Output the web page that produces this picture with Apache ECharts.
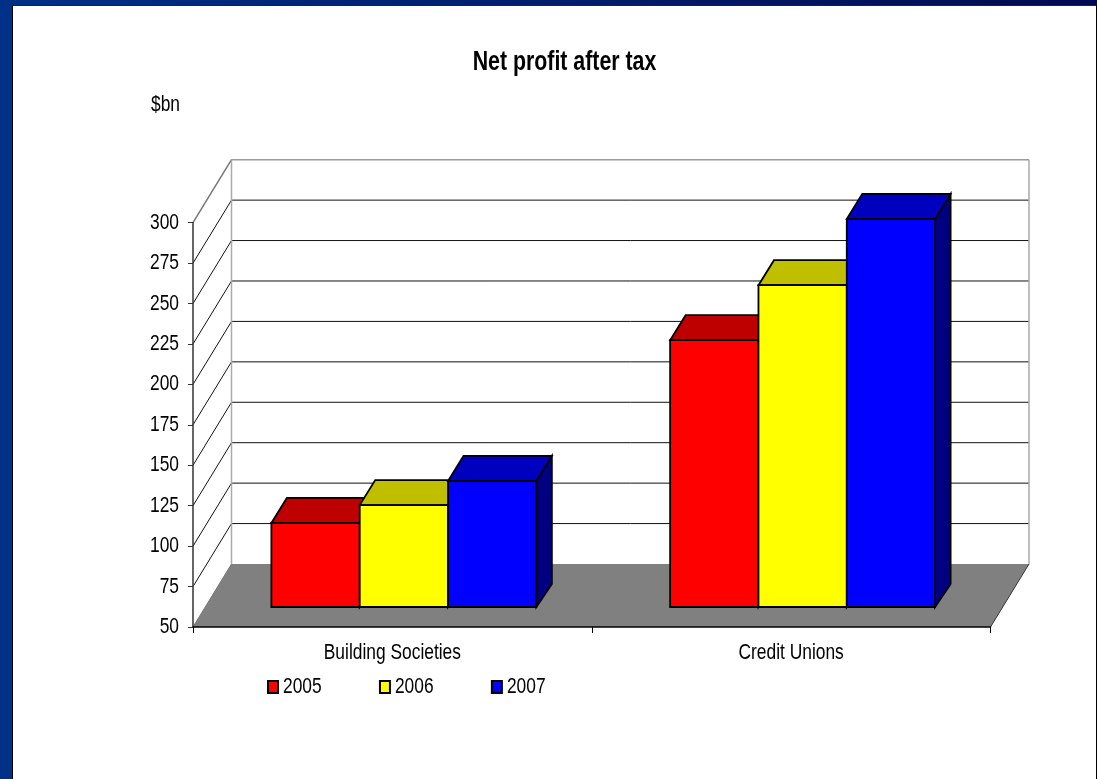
<!DOCTYPE html>
<html>
<head>
<meta charset="utf-8">
<style>
html,body{margin:0;padding:0;width:1097px;height:779px;overflow:hidden;background:#003087;}
#top{position:absolute;left:0;top:0;width:1097px;height:6px;background:linear-gradient(to right,#003087,#000a50);}
#panel{position:absolute;left:12px;top:5px;width:1083px;height:774px;background:#fff;border-left:1px solid #000;border-top:1px solid #222;border-right:1px solid #000;box-sizing:content-box;}
#chart{position:absolute;left:0;top:0;width:1097px;height:779px;}
</style>
<script src="https://cdn.jsdelivr.net/npm/echarts@6/dist/echarts.min.js"></script>
</head>
<body>
<div id="top"></div>
<div id="panel"></div>
<div id="chart"></div>
<script>
var categories = ['Building Societies', 'Credit Unions'];
var tickValues = [50, 75, 100, 125, 150, 175, 200, 225, 250, 275, 300];
var years = ['2005', '2006', '2007'];
var values2005 = [102, 215];
var values2006 = [113, 249];
var values2007 = [128, 290];

var FONT = '"Liberation Sans",Arial,sans-serif';
var TEXT_SQUEEZE = 0.79;             // the reference's lettering is horizontally condensed
var WALL_DX = 38.5, WALL_DY = -63;   // depth of the whole box
var BAR_DX = 11.5, BAR_DY = -20;     // where the bars' front faces sit in the box
var TOP_DX = 15.5, TOP_DY = -25;     // depth of each bar
var GROUP_SHARE = 0.2215;            // bar width as share of a category band

function poly(points, fill, stroke, lw) {
  return {type:'polygon', shape:{points:points},
    style:{fill:fill, stroke:stroke||null, lineWidth:lw||0, lineJoin:'miter'}};
}
function seg(a, b, color, lw) {
  return {type:'line', shape:{x1:a[0],y1:a[1],x2:b[0],y2:b[1]},
    style:{stroke:color, lineWidth:lw, fill:null}};
}

function renderBox(params, api) {
  var v = api.value(0);
  var left = api.coord([0, v]);
  var band = api.size([1, 0])[0];
  var x0 = left[0] - band / 2, x1 = x0 + band * categories.length, y = left[1];
  var items = [];
  var isTop = v === tickValues[tickValues.length - 1];
  var isBottom = v === tickValues[0];
  var backL = [x0 + WALL_DX, y + WALL_DY], backR = [x1 + WALL_DX, y + WALL_DY];
  if (isBottom) {
    items.push(poly([[x0,y],[x1,y],backR,backL], '#808080'));
    items.push(seg([x1,y], backR, '#333', 1));
    items.push(seg([x0,y], backL, '#777', 1));
  } else {
    var c = isTop ? '#999' : '#111';
    items.push(seg(backL, backR, c, isTop ? 1.5 : 1));
    items.push(seg([x0,y], backL, isTop ? '#777' : '#111', isTop ? 1.5 : 1));
  }
  if (isTop) {
    var yb = api.coord([0, tickValues[0]])[1] + WALL_DY;
    items.push(seg(backL, [backL[0], yb], '#aaa', 1.5));
    items.push(seg(backR, [backR[0], yb], '#aaa', 1.5));
  }
  return {type:'group', children:items};
}

function barRenderer(seriesIndex, front, topC, sideC) {
  return function (params, api) {
    var cat = api.value(0), val = api.value(1);
    var band = api.size([1, 0])[0];
    var w = band * GROUP_SHARE;
    var t = api.coord([cat, val]);
    var b = api.coord([cat, tickValues[0]]);
    var xl = t[0] + BAR_DX + (seriesIndex - years.length / 2) * w;
    var xr = xl + w;
    var yt = t[1] + BAR_DY, yb = b[1] + BAR_DY;
    var sw = 1.8;
    return {type:'group', children:[
      poly([[xr,yt],[xr+TOP_DX,yt+TOP_DY],[xr+TOP_DX,yb+TOP_DY+2],[xr,yb]], sideC, '#000', sw),
      poly([[xl,yt],[xl+TOP_DX,yt+TOP_DY],[xr+TOP_DX,yt+TOP_DY],[xr,yt]], topC, '#000', sw),
      poly([[xl,yt],[xr,yt],[xr,yb],[xl,yb]], front, '#000', sw)
    ]};
  };
}

function barSeries(i, data, front, topC, sideC) {
  return {
    type:'custom', name:years[i], clip:false, z:3+i,
    renderItem:barRenderer(i, front, topC, sideC),
    encode:{x:0, y:1},
    itemStyle:{color:front, borderColor:'#000', borderWidth:1.5},
    data:data.map(function (d, k) { return [k, d]; })
  };
}

var chart = echarts.init(document.getElementById('chart'), null, {renderer:'canvas'});
chart.setOption({
  animation:false,
  backgroundColor:'transparent',
  title:{text:'Net profit after tax', left:559.5, textAlign:'center', top:44,
    textStyle:{fontFamily:FONT, fontSize:27, fontWeight:'bold', color:'#000'}},
  graphic:[{type:'text', left:151, top:94,
    style:{text:'$bn', fontFamily:FONT, fontSize:22, fill:'#000'}}],
  legend:{
    left:262, top:671, icon:'rect', itemWidth:10, itemHeight:12, itemGap:47,
    selectedMode:false,
    data:years,
    textStyle:{fontFamily:FONT, fontSize:22, color:'#000'}
  },
  grid:{left:193, right:106.5, top:222.7, bottom:152, containLabel:false},
  xAxis:{
    type:'category', data:categories, boundaryGap:true, z:5,
    axisLine:{show:true, lineStyle:{color:'#000', width:1.5}},
    axisTick:{show:true, length:6, lineStyle:{color:'#000', width:1}},
    axisLabel:{fontFamily:FONT, fontSize:22, color:'#000', margin:15},
    splitLine:{show:false}
  },
  yAxis:{
    type:'value', min:50, max:300, interval:25, z:5,
    axisLine:{show:true, lineStyle:{color:'#333', width:1.5}},
    axisTick:{show:true, length:5, lineStyle:{color:'#333', width:1}},
    axisLabel:{fontFamily:FONT, fontSize:22, color:'#000', margin:14},
    splitLine:{show:false}
  },
  series:[
    {type:'custom', name:'box', clip:false, z:1, silent:true,
     renderItem:renderBox, encode:{y:0},
     data:tickValues.map(function (v) { return [v]; })},
    barSeries(0, values2005, '#ff0000', '#bf0000', '#800000'),
    barSeries(1, values2006, '#ffff00', '#bfbf00', '#808000'),
    barSeries(2, values2007, '#0000ff', '#0000bf', '#000080')
  ]
});

// Condense all lettering horizontally around each text's own anchor.
var zr = chart.getZr();
zr.storage.getDisplayList(true).forEach(function (el) {
  if (el.type === 'tspan') {
    el.originX = el.style.x;
    el.originY = el.style.y;
    el.scaleX = TEXT_SQUEEZE;
    el.markRedraw();
  }
});
zr.refreshImmediately();
</script>
</body>
</html>
